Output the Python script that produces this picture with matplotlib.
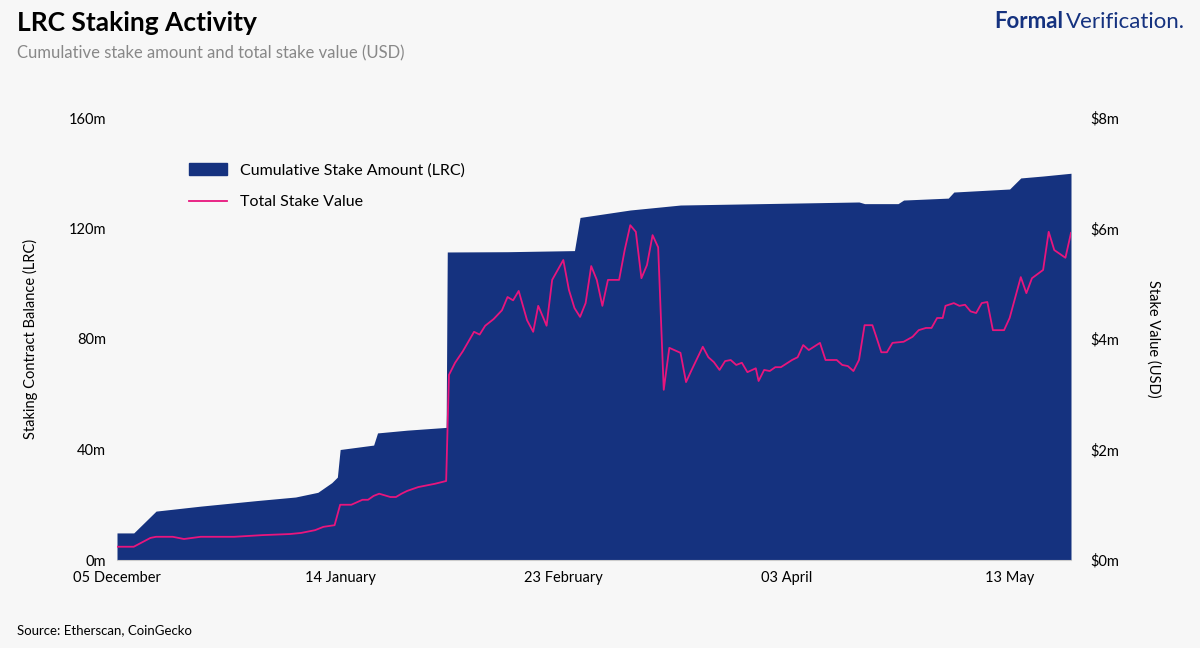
import matplotlib
matplotlib.use("Agg")
import matplotlib.pyplot as plt
from matplotlib.patches import Patch
from matplotlib.lines import Line2D

plt.rcParams["font.family"] = "Lato"

NAVY = "#15327f"
PINK = "#e8157d"
BG = "#f7f7f7"

# days since 05 December
stake_days = [0, 3, 7, 15, 25, 32, 36, 38.5, 39.5, 40, 46, 46.7, 52, 59, 59.2, 70, 82, 83,
              92, 101, 133, 134, 140, 141, 149, 150, 160, 162, 166, 171]
stake_lrc = [9.8, 9.8, 17.7, 19.5, 21.5, 22.8, 24.5, 28, 30, 40, 41.6, 46, 47, 48, 111.5,
             111.6, 112, 124, 126.7, 128.5, 129.6, 129, 129, 130.3, 131, 133.2, 134.3,
             138.3, 139, 140]

value_days = [0, 3, 6, 7, 10, 12, 15, 21, 26, 31, 33, 35.5, 37, 39, 40, 42, 44, 45, 46, 47,
              49, 50, 51, 52, 54, 57, 59, 59.5, 60.6, 62, 64, 65, 66, 67.5, 69, 70, 71, 72,
              73.5, 74.6, 75.5, 76.6, 77, 78, 80, 81, 82, 83, 84, 85, 86, 87, 88, 90, 91, 92,
              93, 94, 95, 96, 97, 98, 99, 101, 102, 103, 105, 106, 107, 108, 109, 110, 111,
              112, 113, 114.5, 115, 116, 117, 118, 119, 121, 122, 123, 124, 126, 127, 129,
              130, 131, 132, 133, 134, 135.4, 136, 137, 138, 139, 141, 142.6, 143.7, 145,
              146, 147, 148, 148.5, 150, 151, 152, 153, 154, 155, 156, 157, 159, 160, 162,
              163, 164, 166, 167, 168, 170, 171]
value_usd = [0.24, 0.24, 0.40, 0.42, 0.42, 0.38, 0.42, 0.42, 0.45, 0.47, 0.49, 0.54, 0.60,
             0.63, 1.00, 1.00, 1.09, 1.09, 1.16, 1.20, 1.14, 1.14, 1.20, 1.25, 1.32, 1.38,
             1.43, 3.35, 3.57, 3.78, 4.13, 4.08, 4.24, 4.36, 4.52, 4.76, 4.70, 4.87, 4.34,
             4.13, 4.60, 4.34, 4.24, 5.07, 5.43, 4.89, 4.56, 4.40, 4.65, 5.32, 5.07, 4.60,
             5.07, 5.07, 5.61, 6.06, 5.94, 5.10, 5.34, 5.88, 5.66, 3.08, 3.84, 3.75, 3.22,
             3.44, 3.86, 3.67, 3.58, 3.44, 3.60, 3.62, 3.53, 3.57, 3.40, 3.47, 3.24, 3.44,
             3.42, 3.49, 3.49, 3.62, 3.67, 3.89, 3.80, 3.93, 3.62, 3.62, 3.53, 3.51, 3.42,
             3.62, 4.25, 4.25, 4.07, 3.76, 3.76, 3.93, 3.95, 4.04, 4.16, 4.20, 4.20, 4.38,
             4.38, 4.60, 4.65, 4.60, 4.62, 4.50, 4.47, 4.65, 4.67, 4.16, 4.16, 4.38, 5.12,
             4.83, 5.10, 5.25, 5.94, 5.61, 5.47, 5.92]

tick_days = [0, 40, 80, 120, 160]
tick_labels = ["05 December", "14 January", "23 February", "03 April", "13 May"]
left_ticks = [0, 40, 80, 120, 160]
right_ticks = [0, 2, 4, 6, 8]

fig = plt.figure(figsize=(12, 6.48), dpi=100, facecolor=BG)
ax = fig.add_axes([117 / 1200, 1 - 560 / 648, (1071 - 117) / 1200, (560 - 118) / 648])
ax.set_facecolor(BG)
ax.fill_between(stake_days, stake_lrc, 0, color=NAVY, lw=0, zorder=2)
ax.set_xlim(0, 171)
ax.set_ylim(0, 160)
ax.set_xticks(tick_days)
ax.set_xticklabels(tick_labels, fontsize=10.5)
ax.set_yticks(left_ticks)
ax.set_yticklabels([f"{v}m" for v in left_ticks], fontsize=10.5)
ax.set_ylabel("Staking Contract Balance (LRC)", fontsize=10.5, labelpad=22)
ax.tick_params(length=0, pad=8)
for s in ["top", "right", "left"]:
    ax.spines[s].set_visible(False)
ax.spines["bottom"].set_color("#cccccc")

ax2 = ax.twinx()
ax2.plot(value_days, value_usd, color=PINK, lw=1.3, zorder=3)
ax2.set_ylim(0, 8)
ax2.set_yticks(right_ticks)
ax2.set_yticklabels([f"${v}m" for v in right_ticks], fontsize=10.5)
ax2.set_ylabel("Stake Value (USD)", fontsize=10.5, rotation=270, labelpad=30)
ax2.tick_params(length=0, pad=14)
for s in ax2.spines.values():
    s.set_visible(False)

ax.legend(handles=[Patch(color=NAVY, label="Cumulative Stake Amount (LRC)"),
                   Line2D([], [], color=PINK, lw=1.3, label="Total Stake Value")],
          loc="upper left", bbox_to_anchor=(0.06, 0.93), frameon=False, fontsize=11.5,
          handlelength=2.4, labelspacing=1.1)

fig.text(17 / 1200, 1 - 23 / 648, "LRC Staking Activity", fontsize=19, fontweight="bold", va="center")
fig.text(17 / 1200, 1 - 53 / 648, "Cumulative stake amount and total stake value (USD)",
         fontsize=12, color="#888888", va="center")
fig.text(1063 / 1200, 1 - 22 / 648, "Formal", fontsize=16, fontweight="bold", color=NAVY,
         va="center", ha="right")
fig.text(1066 / 1200, 1 - 22 / 648, "Verification.", fontsize=16, color=NAVY, va="center", ha="left")
fig.text(17 / 1200, 1 - 630 / 648, "Source: Etherscan, CoinGecko", fontsize=9.5, va="center")

fig.savefig("out.png", dpi=100, facecolor=BG)
